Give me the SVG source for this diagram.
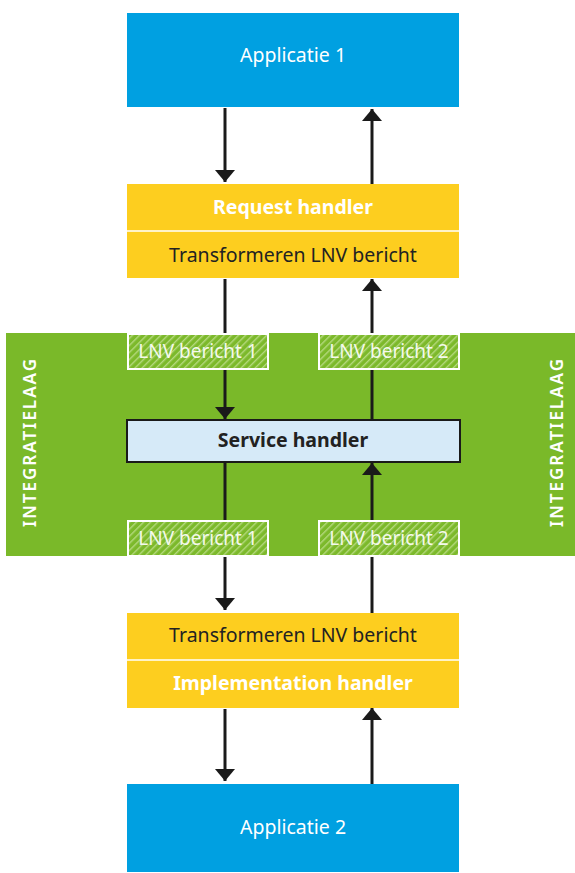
<svg xmlns="http://www.w3.org/2000/svg" width="575" height="873" viewBox="0 0 575 873">
<style>
.app{fill:#00A0E1}
.yel{fill:#FDCE1F}
.t{font-family:"Noto Sans","Open Sans",sans-serif;font-size:19.5px;text-anchor:middle}
.w{fill:#ffffff}
.d{fill:#222222}
.b{font-weight:bold}
.lnv{fill:url(#hatch);stroke:#ffffff;stroke-width:2}
.lt{font-family:"Noto Sans","Open Sans",sans-serif;font-size:19px;fill:#f4f9ec;text-anchor:middle}
.side{font-family:"Noto Sans","Open Sans",sans-serif;font-size:17px;font-weight:600;fill:#ffffff;letter-spacing:2px;text-anchor:middle}
.c{stroke:#1a1a1a;stroke-width:3;fill:none}
</style>
<defs>
<pattern id="hatch" patternUnits="userSpaceOnUse" width="5" height="5" patternTransform="rotate(45)">
<rect width="5" height="5" fill="#7CB92B"/>
<rect x="0" y="0" width="1.4" height="5" fill="#B5D97F"/>
</pattern>
<marker id="ah" markerWidth="12" markerHeight="20" refX="12" refY="10" orient="auto" markerUnits="userSpaceOnUse">
<path d="M0,0 L12,10 L0,20 Z" fill="#1a1a1a"/>
</marker>
</defs>
<rect x="6" y="333" width="569" height="223" fill="#7AB929"/>
<g id="app1">
<rect class="app" x="127" y="13" width="332" height="94"/>
<text class="t w" x="293" y="62">Applicatie 1</text>
</g>
<g id="request">
<rect class="yel" x="127" y="184" width="332" height="94"/>
<line x1="127" y1="231" x2="459" y2="231" stroke="#ffffff" stroke-width="1.5"/>
<text class="t w b" x="293" y="214">Request handler</text>
<text class="t d" x="293" y="262">Transformeren LNV bericht</text>
</g>
<g id="integratielaag-left"><text class="side" transform="translate(36,442) rotate(-90)">INTEGRATIELAAG</text></g>
<g id="integratielaag-right"><text class="side" transform="translate(563,442) rotate(-90)">INTEGRATIELAAG</text></g>
<g id="connectors">
<line class="c" x1="225" y1="108" x2="225" y2="182" marker-end="url(#ah)"/>
<line class="c" x1="372" y1="184" x2="372" y2="109" marker-end="url(#ah)"/>
<line class="c" x1="225" y1="279" x2="225" y2="419" marker-end="url(#ah)"/>
<line class="c" x1="372" y1="420" x2="372" y2="279" marker-end="url(#ah)"/>
<line class="c" x1="225" y1="463" x2="225" y2="610" marker-end="url(#ah)"/>
<line class="c" x1="372" y1="613" x2="372" y2="463" marker-end="url(#ah)"/>
<line class="c" x1="225" y1="709" x2="225" y2="781" marker-end="url(#ah)"/>
<line class="c" x1="372" y1="784" x2="372" y2="708" marker-end="url(#ah)"/>
</g>
<g id="lnv1-top"><rect class="lnv" x="128" y="334" width="140" height="35"/><text class="lt" x="198" y="358">LNV bericht 1</text></g>
<g id="lnv2-top"><rect class="lnv" x="319" y="334" width="140" height="35"/><text class="lt" x="389" y="358">LNV bericht 2</text></g>
<g id="service">
<rect x="127" y="420" width="333" height="42" fill="#D6EAF8" stroke="#1a1a1a" stroke-width="2"/>
<text class="t d b" x="293" y="447" font-size="18">Service handler</text>
</g>
<g id="lnv1-bottom"><rect class="lnv" x="128" y="521" width="140" height="35"/><text class="lt" x="198" y="545">LNV bericht 1</text></g>
<g id="lnv2-bottom"><rect class="lnv" x="319" y="521" width="140" height="35"/><text class="lt" x="389" y="545">LNV bericht 2</text></g>
<g id="implementation">
<rect class="yel" x="127" y="613" width="332" height="95"/>
<line x1="127" y1="660" x2="459" y2="660" stroke="#ffffff" stroke-width="1.5"/>
<text class="t d" x="293" y="642">Transformeren LNV bericht</text>
<text class="t w b" x="293" y="690">Implementation handler</text>
</g>
<g id="app2">
<rect class="app" x="127" y="784" width="332" height="88"/>
<text class="t w" x="293" y="834">Applicatie 2</text>
</g>
</svg>
